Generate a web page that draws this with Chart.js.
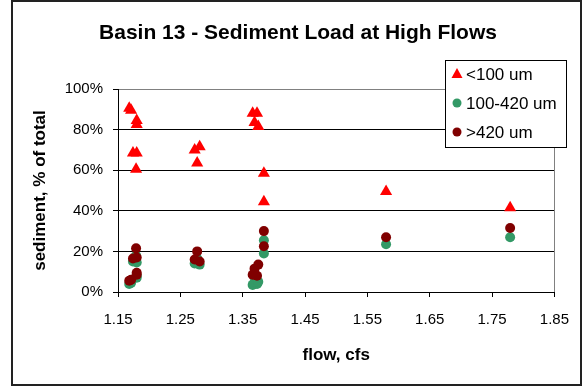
<!DOCTYPE html>
<html>
<head>
<meta charset="utf-8">
<title>Basin 13 sediment load</title>
<script src="https://cdn.jsdelivr.net/npm/chart.js@4.4.0/dist/chart.umd.min.js"></script>
<style>
  html, body { margin: 0; padding: 0; background: #fff; }
  #wrap { width: 583px; height: 387px; }
</style>
</head>
<body>
<div id="wrap"><canvas id="sedChart" width="583" height="387"></canvas></div>
<script>
// one entry per high-flow sample: flow (cfs) and % of total load by size class
var flow   = [1.168, 1.171, 1.180, 1.180, 1.174, 1.180, 1.179,
              1.273, 1.281, 1.277,
              1.366, 1.373, 1.369, 1.375, 1.384, 1.384,
              1.580, 1.779];
var fine   = [90.5, 89.5, 84.5, 82.5, 68.5, 68.5, 60.5,
              70, 71.5, 63.5,
              88, 88, 83.5, 81.5, 58.5, 44.5,
              49.5, 41.5];          // <100 um
var medium = [4, 4.5, 7, 8, 15, 14.5, 18,
              14, 13.5, 16.5,
              3.5, 4, 5, 5, 19, 25.5,
              23.5, 27];            // 100-420 um
var coarse = [5.5, 6, 8.5, 9.5, 16.5, 17, 21.5,
              16, 15, 20,
              8.5, 8, 11.5, 13.5, 22.5, 30,
              27, 31.5];            // >420 um

var seriesNames = ['<100 um', '100-420 um', '>420 um'];
var chartTitle = 'Basin 13 - Sediment Load at High Flows';
var xTickVals = [1.15, 1.25, 1.35, 1.45, 1.55, 1.65, 1.75, 1.85];
var yTickVals = [0, 20, 40, 60, 80, 100];

var FONT = '"Liberation Sans", Arial, sans-serif';

function pairs(ys) {
  return flow.map(function (f, i) { return { x: f, y: ys[i] }; });
}

// white background, outer frame, title and the boxed legend
var frame = {
  id: 'frame',
  beforeDraw: function (chart) {
    var c = chart.ctx;
    c.save();
    c.fillStyle = '#fff';
    c.fillRect(0, 0, chart.width, chart.height);
    c.strokeStyle = '#222';
    c.lineWidth = 2;
    c.strokeRect(12, 1, 569, 384);
    c.fillStyle = '#000';
    c.font = 'bold 21px ' + FONT;
    c.textAlign = 'center';
    c.textBaseline = 'middle';
    c.fillText(chartTitle, 298, 33);
    c.restore();
  },
  beforeDatasetsDraw: function (chart) {
    // grey plot border on the right side
    var a = chart.chartArea, c = chart.ctx;
    c.save();
    c.strokeStyle = '#808080';
    c.lineWidth = 1;
    c.beginPath();
    c.moveTo(Math.round(a.right) + 0.5, a.top);
    c.lineTo(Math.round(a.right) + 0.5, a.bottom);
    c.stroke();
    c.restore();
  },
  afterDraw: function (chart) {
    var c = chart.ctx;
    var bx = 445.5, by = 60.5, bw = 121, bh = 87;
    c.save();
    c.fillStyle = '#fff';
    c.fillRect(bx, by, bw, bh);
    c.strokeStyle = '#000';
    c.lineWidth = 1;
    c.strokeRect(bx, by, bw, bh);
    c.font = '17px ' + FONT;
    c.textAlign = 'left';
    c.textBaseline = 'middle';
    chart.data.datasets.forEach(function (ds, i) {
      var cy = 74 + i * 29, cx = 457;
      c.fillStyle = ds.backgroundColor;
      c.beginPath();
      if (ds.pointStyle === 'triangle') {
        c.moveTo(cx, cy - 6);
        c.lineTo(cx + 5.5, cy + 4);
        c.lineTo(cx - 5.5, cy + 4);
        c.closePath();
      } else {
        c.arc(cx, cy, 4.5, 0, Math.PI * 2);
      }
      c.fill();
      c.fillStyle = '#000';
      c.fillText(ds.label, 466, cy + 1);
    });
    c.restore();
  }
};

var ctx = document.getElementById('sedChart').getContext('2d');
var sedChart = new Chart(ctx, {
  type: 'scatter',
  data: {
    datasets: [
      {
        label: seriesNames[0],
        data: pairs(fine),
        pointStyle: 'triangle',
        pointRadius: 7,
        backgroundColor: '#FF0000',
        borderColor: '#FF0000',
        borderWidth: 0,
        order: 1
      },
      {
        label: seriesNames[1],
        data: pairs(medium),
        pointStyle: 'circle',
        pointRadius: 5,
        backgroundColor: '#339966',
        borderColor: '#339966',
        borderWidth: 0,
        order: 3
      },
      {
        label: seriesNames[2],
        data: pairs(coarse),
        pointStyle: 'circle',
        pointRadius: 5,
        backgroundColor: '#800000',
        borderColor: '#800000',
        borderWidth: 0,
        order: 2
      }
    ]
  },
  options: {
    responsive: false,
    animation: false,
    events: [],
    layout: { padding: { left: 0, top: 89, right: 20, bottom: 0 } },
    plugins: {
      legend: { display: false },
      title: { display: false },
      tooltip: { enabled: false }
    },
    scales: {
      x: {
        type: 'linear',
        min: 1.15,
        max: 1.85,
        afterBuildTicks: function (s) {
          s.ticks = xTickVals.map(function (v) { return { value: v }; });
        },
        afterFit: function (s) { s.height = 95; },
        border: { color: '#000', width: 1 },
        grid: { drawOnChartArea: false, drawTicks: true, tickLength: 5, tickColor: '#000' },
        ticks: {
          padding: 14,
          color: '#000',
          font: { family: FONT, size: 15 },
          maxRotation: 0,
          callback: function (v) { return v.toFixed(2); }
        },
        title: {
          display: true,
          text: 'flow, cfs',
          color: '#000',
          font: { family: FONT, size: 17, weight: 'bold' },
          padding: { top: 0, bottom: 21 }
        }
      },
      y: {
        min: 0,
        max: 100,
        afterBuildTicks: function (s) {
          s.ticks = yTickVals.map(function (v) { return { value: v }; });
        },
        afterFit: function (s) { s.width = 118; },
        border: { color: '#000', width: 1 },
        grid: {
          color: function (c) { return c.tick && c.tick.value === 100 ? '#808080' : '#000'; },
          tickColor: '#000',
          tickLength: 5
        },
        ticks: {
          padding: 10,
          color: '#000',
          font: { family: FONT, size: 15 },
          callback: function (v) { return v + '%'; }
        },
        title: {
          display: true,
          text: 'sediment, % of total',
          color: '#000',
          font: { family: FONT, size: 17, weight: 'bold' },
          padding: { top: 30, bottom: 0 }
        }
      }
    }
  },
  plugins: [frame]
});
</script>
</body>
</html>
